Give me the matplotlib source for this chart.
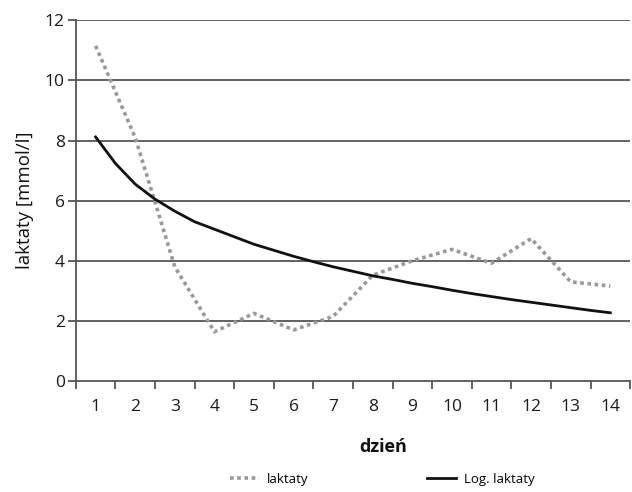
import matplotlib
matplotlib.use('Agg')
import matplotlib.pyplot as plt
from matplotlib.ticker import FixedLocator

plt.rcParams['font.family'] = ['Open Sans', 'DejaVu Sans']

# dane
days = [1, 2, 3, 4, 5, 6, 7, 8, 9, 10, 11, 12, 13, 14]
lactate = [11.15, 8.1, 3.8, 1.64, 2.25, 1.7, 2.15, 3.52, 4.0, 4.38, 3.92, 4.74, 3.3, 3.16]

# krzywa trendu logarytmicznego
log_x = [1, 1.5, 2, 2.5, 3, 3.5, 4, 4.5, 5, 5.5, 6, 6.5, 7, 7.5,
         8, 8.5, 9, 9.5, 10, 10.5, 11, 11.5, 12, 12.5, 13, 13.5, 14]
log_y = [8.12, 7.24, 6.55, 6.05, 5.65, 5.3, 5.05, 4.8, 4.55, 4.35, 4.15, 3.97, 3.8, 3.65,
         3.5, 3.38, 3.25, 3.14, 3.02, 2.91, 2.81, 2.71, 2.62, 2.53, 2.44, 2.35, 2.27]

y_ticks = [0, 2, 4, 6, 8, 10, 12]

fig = plt.figure(figsize=(6.32, 4.92), dpi=100)
ax = fig.add_axes([0.120, 0.2256, 0.877, 0.733])

for t in y_ticks[1:]:
    ax.axhline(t, color='#555555', linewidth=1.3, zorder=1)

ax.plot(days, lactate, color='#999999', linestyle=(0, (1, 1)), linewidth=2.6,
        label='laktaty', zorder=2)
ax.plot(log_x, log_y, color='#111111', linewidth=2.0, label='Log. laktaty', zorder=3)

ax.set_xlim(0.5, 14.5)
ax.set_ylim(0, 12)
ax.set_yticks(y_ticks)
ax.set_xticks(days)
ax.xaxis.set_minor_locator(FixedLocator([d + 0.5 for d in range(0, 15)]))
ax.tick_params(axis='x', which='major', length=0, pad=13, labelsize=12.5, colors='#1a1a1a')
ax.tick_params(axis='x', which='minor', length=6, width=1.3, color='#555555', direction='out')
ax.tick_params(axis='y', length=6, width=1.3, color='#555555', labelsize=12.5,
               labelcolor='#1a1a1a', pad=2)

for s in ['top', 'right']:
    ax.spines[s].set_visible(False)
for s in ['left', 'bottom']:
    ax.spines[s].set_color('#555555')
    ax.spines[s].set_linewidth(1.3)

ax.set_ylabel('laktaty [mmol/l]', fontsize=13.5, labelpad=8, color='#111111')
fig.text(0.606, 0.092, 'dzień', fontsize=13, fontweight='bold', ha='center', va='center',
         color='#111111')

fig.legend(loc='center', bbox_to_anchor=(0.605, 0.026), ncol=2, frameon=False,
           fontsize=9.5, columnspacing=9, handlelength=2.2, handletextpad=0.6,
           borderpad=0.1)

fig.savefig('out.png', dpi=100)
